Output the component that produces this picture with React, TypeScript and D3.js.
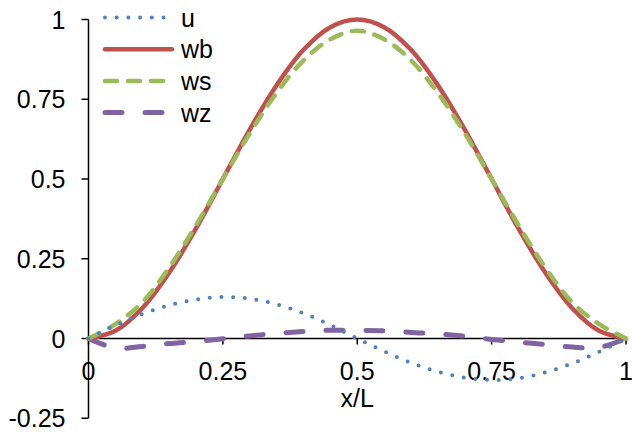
import React from "react";
import * as d3 from "d3";

const xs = [0, 0.05, 0.1, 0.15, 0.2, 0.25, 0.3, 0.35, 0.4, 0.45, 0.5, 0.55, 0.6, 0.65, 0.7, 0.75, 0.8, 0.85, 0.9, 0.95, 1];
const uVals = [0, 0.041, 0.077, 0.104, 0.122, 0.13, 0.125, 0.107, 0.079, 0.042, 0, -0.04, -0.076, -0.104, -0.123, -0.13, -0.125, -0.106, -0.078, -0.042, 0];
const wbVals = [0, 0.024, 0.095, 0.206, 0.345, 0.5, 0.655, 0.794, 0.905, 0.976, 1, 0.976, 0.905, 0.794, 0.655, 0.5, 0.345, 0.206, 0.095, 0.024, 0];
const wsVals = [0, 0.045, 0.113, 0.222, 0.355, 0.5, 0.643, 0.77, 0.872, 0.938, 0.965, 0.938, 0.872, 0.77, 0.643, 0.5, 0.355, 0.222, 0.113, 0.045, 0];
const wzVals = [0, -0.03, -0.025, -0.016, -0.009, -0.001, 0.008, 0.016, 0.022, 0.026, 0.025, 0.024, 0.019, 0.014, 0.007, -0.003, -0.011, -0.019, -0.027, -0.028, 0];

const xTicks = [0, 0.25, 0.5, 0.75, 1];
const yTicks = [-0.25, 0, 0.25, 0.5, 0.75, 1];
const seriesNames = ["u", "wb", "ws", "wz"];

const W = 632;
const H = 435;
const FONT = "'Liberation Sans', Arial, sans-serif";

const styles: Record<string, { color: string; width: number; dash: string; cap: string }> = {
  u: { color: "#4F81BD", width: 4, dash: "0 11.7", cap: "round" },
  wb: { color: "#C0504D", width: 4.5, dash: "", cap: "round" },
  ws: { color: "#9BBB59", width: 4.5, dash: "12 11", cap: "round" },
  wz: { color: "#8064A2", width: 5, dash: "17 23", cap: "round" },
};

export default function App() {
  const x = d3.scaleLinear().domain([0, 1]).range([88.5, 626]);
  const y = d3.scaleLinear().domain([0, 1]).range([338.5, 19.5]);
  const data: Record<string, number[]> = { u: uVals, wb: wbVals, ws: wsVals, wz: wzVals };
  const line = d3
    .line<number>()
    .x((_, i) => x(xs[i]))
    .y((d) => y(d))
    .curve(d3.curveCatmullRom.alpha(0.5));

  const order = ["wz", "wb", "ws", "u"];

  return (
    <svg width={W} height={H} style={{ position: "fixed", left: 0, top: 0, background: "#fff" }} fontFamily={FONT}>
      <rect width={W} height={H} fill="#fff" />
      {/* y axis */}
      <line x1={x(0)} x2={x(0)} y1={y(1)} y2={y(-0.25)} stroke="#000" strokeWidth={1.5} />
      {yTicks.map((t) => (
        <g key={"y" + t}>
          <line x1={x(0) - 7} x2={x(0)} y1={y(t)} y2={y(t)} stroke="#000" strokeWidth={1.5} />
          <text x={65.5} y={y(t)} dy="0.36em" textAnchor="end" fontSize={25} fill="#000">
            {String(t)}
          </text>
        </g>
      ))}
      {/* x axis */}
      <line x1={x(0)} x2={x(1)} y1={y(0)} y2={y(0)} stroke="#000" strokeWidth={1.5} />
      {xTicks.map((t) => (
        <g key={"x" + t}>
          <line x1={x(t)} x2={x(t)} y1={y(0)} y2={y(0) + 6} stroke="#000" strokeWidth={1.5} />
          <text x={x(t)} y={380} textAnchor="middle" fontSize={25} fill="#000">
            {String(t)}
          </text>
        </g>
      ))}
      <text x={(x(0) + x(1)) / 2} y={407} textAnchor="middle" fontSize={25} fill="#000">
        x/L
      </text>
      {/* series */}
      {order.map((k) => (
        <path
          key={k}
          d={line(data[k]) || ""}
          fill="none"
          stroke={styles[k].color}
          strokeWidth={styles[k].width}
          strokeDasharray={styles[k].dash || undefined}
          strokeLinecap={styles[k].cap as any}
          strokeLinejoin="round"
        />
      ))}
      {/* legend */}
      {seriesNames.map((k, i) => {
        const ly = 17.5 + i * 31.7;
        return (
          <g key={"l" + k}>
            <line
              x1={105}
              x2={k === "u" ? 164 : k === "wb" ? 172 : 165}
              y1={ly}
              y2={ly}
              stroke={styles[k].color}
              strokeWidth={styles[k].width}
              strokeDasharray={styles[k].dash || undefined}
              strokeLinecap={styles[k].cap as any}
            />
            <text x={181} y={ly} dy="0.36em" fontSize={25} fill="#000">
              {k}
            </text>
          </g>
        );
      })}
    </svg>
  );
}
